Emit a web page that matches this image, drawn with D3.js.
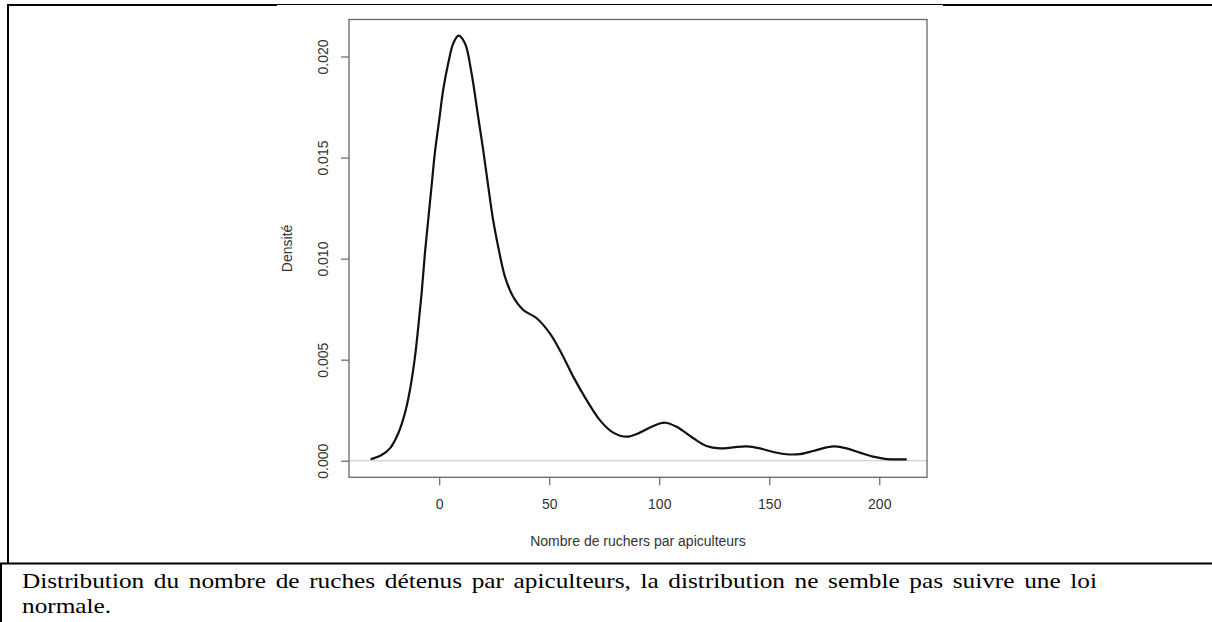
<!DOCTYPE html>
<html>
<head>
<meta charset="utf-8">
<script src="https://cdn.jsdelivr.net/npm/d3@7"></script>
<style>
  html, body { margin: 0; padding: 0; background: #fff; }
  svg { display: block; }
</style>
</head>
<body>
<svg id="chart" width="1212" height="622"></svg>
<script>
// ---- data ----
const xValues = [-31.2, -26.2, -22.4, -18.6, -15.6, -13.3, -11.0, -9.5, -8.0, -6.5, -5.0, -3.5, -2.0, 0.0, 1.8, 4.1, 6.4, 8.8,
  11.7, 14.7, 17.7, 20.0, 22.3, 24.5, 26.8, 29.9, 33.6, 38.2, 44.3, 50.3, 55.6, 60.9, 67.0, 73.0, 79.1, 85.2,
  91.2, 97.3, 102.6, 107.9, 115.5, 121.5, 127.6, 133.6, 139.7, 145.8, 151.8, 157.9, 164.0, 170.0, 176.1, 179.9,
  185.2, 191.2, 197.3, 203.4, 212.5];
const densityValues = [0.00007, 0.00028, 0.00061, 0.00136, 0.00235, 0.00350, 0.00515, 0.00663, 0.00828, 0.01026, 0.01191,
  0.01356, 0.01521, 0.01686, 0.01834, 0.01966, 0.02065, 0.02103,
  0.02065, 0.01917, 0.01702, 0.01537, 0.01356, 0.01191, 0.01059, 0.00910, 0.00811, 0.00746, 0.00705, 0.00630,
  0.00531, 0.00416, 0.00300, 0.00201, 0.00139, 0.00119,
  0.00139, 0.00172, 0.00188, 0.00168, 0.00111, 0.00073, 0.00061, 0.00066, 0.00071, 0.00061, 0.00043, 0.00032,
  0.00033, 0.00048, 0.00066, 0.00071, 0.00061, 0.00040, 0.00020, 0.00008, 0.00007];
const xTicks = [0, 50, 100, 150, 200];
const yTicks = [0, 0.005, 0.010, 0.015, 0.020];
const yTickLabels = ["0.000", "0.005", "0.010", "0.015", "0.020"];
const xLabel = "Nombre de ruchers par apiculteurs";
const yLabel = "Densité";
const captionLines = ["Distribution du nombre de ruches détenus par apiculteurs, la distribution ne semble pas suivre une loi", "normale."];

// ---- layout ----
const svg = d3.select("#chart");
const plot = { left: 349, right: 927, top: 19.5, bottom: 477.3 };
const x = d3.scaleLinear().domain([-41, 221.7]).range([plot.left, plot.right]);
const y = d3.scaleLinear().domain([-0.00082, 0.02183]).range([plot.bottom, plot.top]);
const axisColor = "#666";
const textColor = "#333";
const sans = "'Liberation Sans', Arial, sans-serif";
const fs = 14;

// page frame lines
svg.append("line").attr("x1", 8).attr("x2", 277).attr("y1", 5).attr("y2", 5).attr("stroke", "#000").attr("stroke-width", 2);
svg.append("line").attr("x1", 277).attr("x2", 943).attr("y1", 4.5).attr("y2", 4.5).attr("stroke", "#000").attr("stroke-width", 1);
svg.append("line").attr("x1", 943).attr("x2", 1212).attr("y1", 5).attr("y2", 5).attr("stroke", "#000").attr("stroke-width", 2);
svg.append("line").attr("x1", 8).attr("x2", 8).attr("y1", 4).attr("y2", 564).attr("stroke", "#000").attr("stroke-width", 2);
svg.append("line").attr("x1", 0).attr("x2", 1212).attr("y1", 563.5).attr("y2", 563.5).attr("stroke", "#000").attr("stroke-width", 2);
svg.append("line").attr("x1", 1).attr("x2", 1).attr("y1", 563).attr("y2", 622).attr("stroke", "#000").attr("stroke-width", 2);

// zero line
svg.append("line")
  .attr("x1", plot.left).attr("x2", plot.right)
  .attr("y1", y(0)).attr("y2", y(0))
  .attr("stroke", "#c4c4c4").attr("stroke-width", 1.2);

// x axis
const gx = svg.append("g").attr("transform", `translate(0,${plot.bottom})`)
  .call(d3.axisBottom(x).tickValues(xTicks).tickSize(8).tickFormat(d3.format("d")));
gx.select(".domain").remove();
gx.selectAll(".tick line").attr("stroke", axisColor).attr("stroke-width", 1.2);
gx.selectAll(".tick text").attr("fill", textColor).attr("font-family", sans).attr("font-size", fs)
  .attr("y", 0).attr("dy", 0).attr("transform", "translate(0,32)");

// y axis
const gy = svg.append("g").attr("transform", `translate(${plot.left},0)`)
  .call(d3.axisLeft(y).tickValues(yTicks).tickSize(8).tickFormat((d, i) => yTickLabels[i]));
gy.select(".domain").remove();
gy.selectAll(".tick line").attr("stroke", axisColor).attr("stroke-width", 1.2);
gy.selectAll(".tick text")
  .attr("fill", textColor).attr("font-family", sans).attr("font-size", fs)
  .attr("x", null).attr("dy", null)
  .attr("text-anchor", "middle")
  .attr("transform", `translate(${328 - plot.left},0) rotate(-90)`);

// box
svg.append("rect")
  .attr("x", plot.left).attr("y", plot.top)
  .attr("width", plot.right - plot.left).attr("height", plot.bottom - plot.top)
  .attr("fill", "none").attr("stroke", axisColor).attr("stroke-width", 1.3);

// density curve
const pts = xValues.map((v, i) => [v, densityValues[i]]);
svg.append("path")
  .datum(pts)
  .attr("fill", "none").attr("stroke", "#111").attr("stroke-width", 2.2)
  .attr("stroke-linejoin", "round")
  .attr("d", d3.line().x(d => x(d[0])).y(d => y(d[1])).curve(d3.curveCatmullRom.alpha(0.5)));

// axis titles
svg.append("text").attr("x", (plot.left + plot.right) / 2).attr("y", 545.5)
  .attr("text-anchor", "middle").attr("fill", textColor).attr("font-family", sans).attr("font-size", fs)
  .text(xLabel);
svg.append("text").attr("transform", `translate(292,${(plot.top + plot.bottom) / 2}) rotate(-90)`)
  .attr("text-anchor", "middle").attr("fill", textColor).attr("font-family", sans).attr("font-size", fs)
  .text(yLabel);

// caption (glyphs slightly wide as in the reference; first line justified)
const sx = 1.15;
const cap = svg.append("g").attr("font-family", "'Liberation Serif', 'Times New Roman', serif").attr("font-size", 22).attr("fill", "#000");
const line1 = cap.append("text").attr("transform", `translate(22,588) scale(${sx},1)`).text(captionLines[0]);
cap.append("text").attr("transform", `translate(22,613) scale(${sx},1)`).text(captionLines[1]);
const targetWidth = 1075 / sx;
const natural = line1.node().getComputedTextLength();
const spaces = (captionLines[0].match(/ /g) || []).length;
if (natural < targetWidth && spaces > 0) {
  line1.attr("word-spacing", (targetWidth - natural) / spaces);
}
</script>
</body>
</html>
